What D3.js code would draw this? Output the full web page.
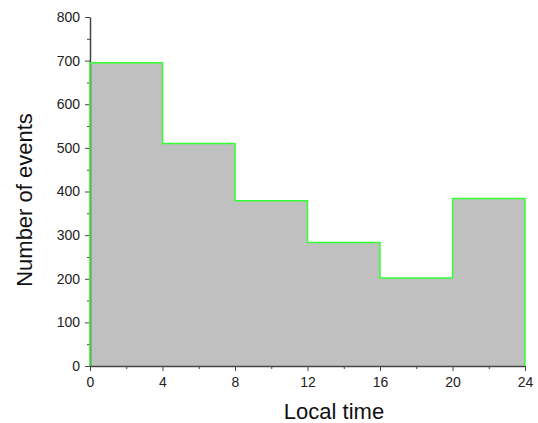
<!DOCTYPE html>
<html>
<head>
<meta charset="utf-8">
<script src="https://cdn.jsdelivr.net/npm/d3@7"></script>
<style>
  body { margin: 0; background: #fff; }
  svg { display: block; font-family: "Liberation Sans", Arial, sans-serif; }
  .tick text { fill: #222; font-size: 14px; }
  .domain, .tick line { stroke: #444; }
</style>
</head>
<body>
<div id="chart"></div>
<script>
// Data: event counts in 4-hour bins of local time
var binStarts = [0, 4, 8, 12, 16, 20];
var binWidth = 4;
var counts = [695, 510, 379, 283, 202, 384];
var xTicks = [0, 4, 8, 12, 16, 20, 24];
var yTicks = [0, 100, 200, 300, 400, 500, 600, 700, 800];

var width = 538;
var height = 423;
var margin = { top: 17, right: 13, bottom: 57, left: 90 };

var svg = d3.select("#chart")
    .append("svg")
    .attr("width", width)
    .attr("height", height);

var xScale = d3.scaleLinear()
    .domain([0, 24])
    .range([margin.left, width - margin.right]);

var yScale = d3.scaleLinear()
    .domain([0, 800])
    .range([height - margin.bottom, margin.top]);

// step points, the last bin is closed at x = 24
var pts = binStarts.map(function(b, i) { return [b, counts[i]]; });
pts.push([binStarts[binStarts.length - 1] + binWidth, counts[counts.length - 1]]);

var area = d3.area()
    .curve(d3.curveStepAfter)
    .x(function(d) { return xScale(d[0]); })
    .y0(yScale(0))
    .y1(function(d) { return yScale(d[1]); });

svg.append("path")
    .datum(pts)
    .attr("d", area)
    .attr("fill", "#c0c0c0");

// minor ticks
var yMinor = d3.range(50, 800, 100);
var xMinor = d3.range(2, 24, 4);

svg.append("g")
    .attr("transform", `translate(${margin.left},0)`)
    .call(d3.axisLeft(yScale).tickValues(yMinor).tickSize(3).tickFormat(""))
    .call(function(g) { g.select(".domain").remove(); });

svg.append("g")
    .attr("transform", `translate(0,${height - margin.bottom})`)
    .call(d3.axisBottom(xScale).tickValues(xMinor).tickSize(3).tickFormat(""))
    .call(function(g) { g.select(".domain").remove(); });

// major axes
svg.append("g")
    .attr("class", "yAxis")
    .attr("transform", `translate(${margin.left},0)`)
    .call(d3.axisLeft(yScale).tickValues(yTicks).tickSize(5).tickSizeOuter(0).tickPadding(5));

svg.append("g")
    .attr("class", "xAxis")
    .attr("transform", `translate(0,${height - margin.bottom})`)
    .call(d3.axisBottom(xScale).tickValues(xTicks).tickSize(5).tickSizeOuter(0).tickPadding(6));

svg.selectAll(".domain").attr("stroke-width", 1.5);

// green outline of the histogram
var outline = d3.line()
    .curve(d3.curveStepAfter)
    .x(function(d) { return xScale(d[0]); })
    .y(function(d) { return yScale(d[1]); });

var outlinePts = [[0, 0]].concat(pts).concat([[24, 0]]);
svg.append("path")
    .datum(outlinePts)
    .attr("d", outline)
    .attr("fill", "none")
    .attr("stroke", "#33ff33")
    .attr("stroke-width", 1.5);

// axis titles
svg.append("text")
    .attr("x", 334)
    .attr("y", 419)
    .attr("text-anchor", "middle")
    .attr("font-size", 22)
    .attr("fill", "#111")
    .text("Local time");

svg.append("text")
    .attr("transform", "translate(32,200)rotate(-90)")
    .attr("text-anchor", "middle")
    .attr("font-size", 22)
    .attr("fill", "#111")
    .text("Number of events");
</script>
</body>
</html>
